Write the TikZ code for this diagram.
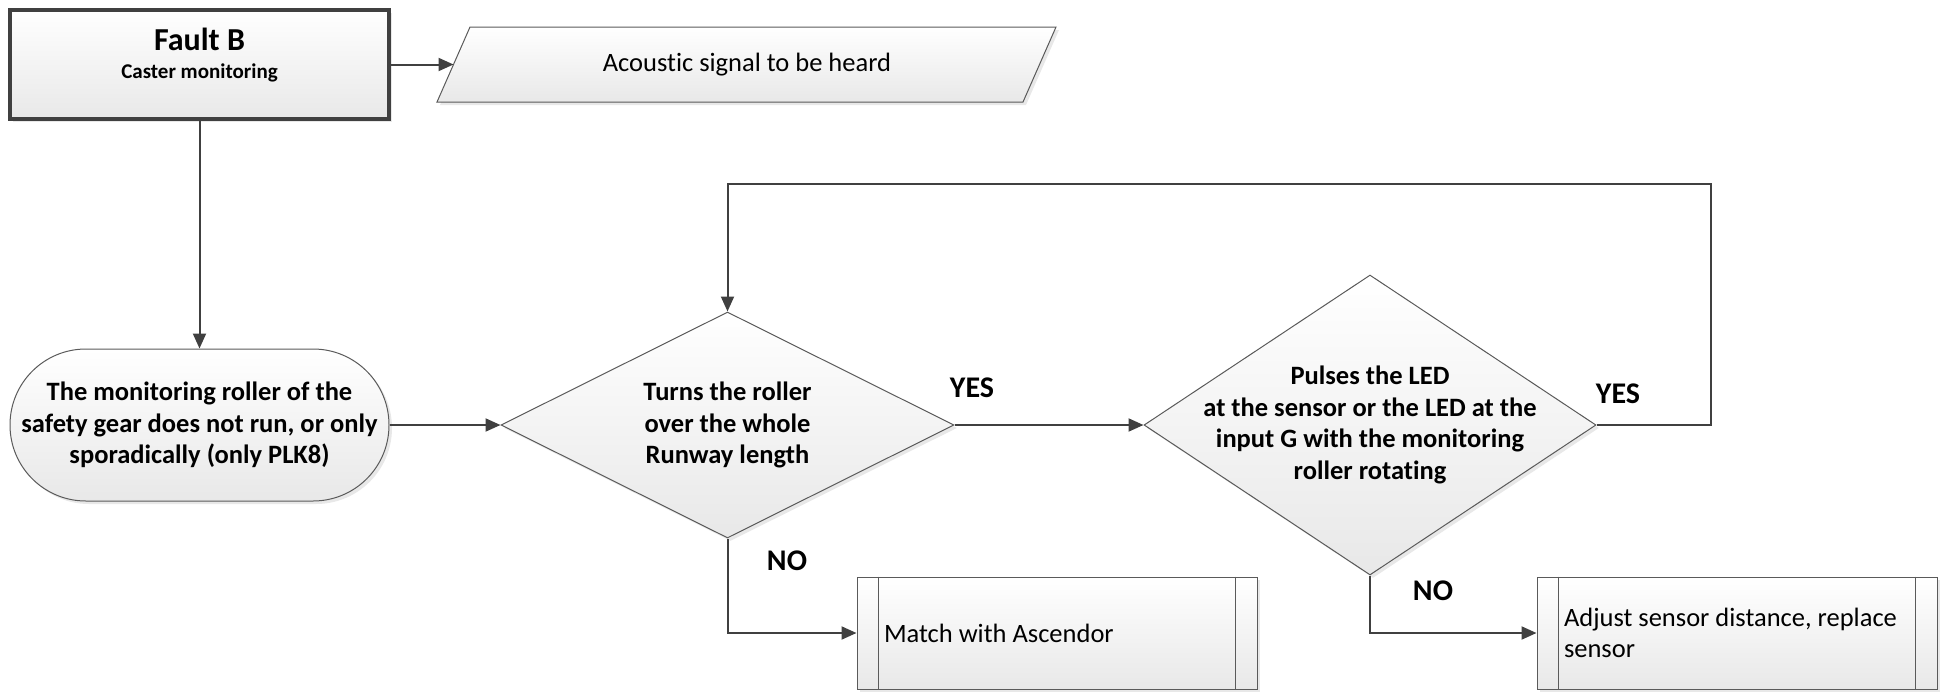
\documentclass[tikz,border=0pt]{standalone}
\usepackage{fontspec}
\setmainfont{Carlito}[Ligatures=NoCommon]
\usetikzlibrary{arrows.meta,shapes.geometric,shadows}
\definecolor{ln}{HTML}{404040}
\definecolor{bd}{HTML}{5A5A5A}
\tikzset{
 base/.style={draw=bd, line width=1pt, top color=white, bottom color=black!9,
   drop shadow={shadow xshift=3pt,shadow yshift=-3pt,opacity=0.18}},
 bodyfont/.style={font=\fontsize{26.5}{31.7}\selectfont},
 boldfont/.style={font=\fontsize{26.5}{31.7}\selectfont\bfseries},
 conn/.style={draw=ln, line width=2pt, -{Triangle[length=15pt,width=13pt]}},
 lbl/.style={font=\fontsize{30}{36}\selectfont\bfseries, text=black, inner sep=0pt},
 decision/.style={base, diamond, align=center, boldfont},
 proc/.style={base, rectangle, minimum width=400pt, minimum height=112pt,
   text width=346pt, inner xsep=27pt, inner ysep=0pt, align=flush left, bodyfont},
 procline/.style={draw=bd, line width=1pt},
}
\begin{document}
\begin{tikzpicture}[x=1pt,y=-1pt]
\useasboundingbox (0,0) rectangle (1948,691);

% Start box
\node[draw=ln, line width=3.5pt, top color=white, bottom color=black!9,
  drop shadow={shadow xshift=3pt,shadow yshift=-3pt,opacity=0.18},
  minimum width=379pt, minimum height=109pt, align=center, inner sep=0pt,
  font=\fontsize{21}{28}\selectfont\bfseries]
  (fault) at (199.5,64.5)
  {{\fontsize{32}{28}\selectfont Fault B}\\
   Caster monitoring\rule[-23pt]{0pt}{1pt}};

% Parallelogram (output)
\draw[base] (437,102) -- (470,27) -- (1056,27) -- (1023,102) -- cycle;
\node[bodyfont, inner sep=0pt] (sig) at (747,64.5) {Acoustic signal to be heard};
\coordinate (sigL) at (453.5,64.5);

% Terminal
\node[base, rectangle, rounded corners=75.9pt, minimum width=379pt, minimum height=152pt,
  align=center, boldfont, inner sep=0pt] (term) at (199.5,425)
  {The monitoring roller of the\\safety gear does not run, or only\\sporadically (only PLK8)};

% Decisions
\node[decision, inner sep=0pt, shape aspect=2, minimum width=453pt, minimum height=226pt] (d1) at (727.5,425)
  {Turns the roller\\over the whole\\Runway length};
\node[decision, inner sep=-20pt, shape aspect=1.5, minimum width=452pt, minimum height=300pt] (d2) at (1370,425)
  {Pulses the LED\\at the sensor or the LED at the\\input G with the monitoring\\roller rotating};

% Predefined processes
\node[proc] (b1) at (1057,633) {Match with Ascendor};
\draw[procline] ([xshift=22pt]b1.north west) -- ([xshift=22pt]b1.south west);
\draw[procline] ([xshift=-22pt]b1.north east) -- ([xshift=-22pt]b1.south east);

\node[proc] (b2) at (1737,633) {Adjust sensor distance, replace\\sensor};
\draw[procline] ([xshift=22pt]b2.north west) -- ([xshift=22pt]b2.south west);
\draw[procline] ([xshift=-22pt]b2.north east) -- ([xshift=-22pt]b2.south east);

% Connectors
\draw[conn] (fault.east) -- (sigL);
\draw[conn] (fault.south) -- (term.north);
\draw[conn] (term.east) -- (d1.west);
\draw[conn] (d1.east) -- (d2.west);
\coordinate (loopR) at (1711,184);
\draw[conn] (d2.east) -| (loopR) -| (d1.north);
\draw[conn] (d1.south) |- (b1.west);
\draw[conn] (d2.south) |- (b2.west);

% Labels
\node[lbl] (yes1) at (972,388) {YES};
\node[lbl] (yes2) at (1618,394) {YES};
\node[lbl] (no1) at (787,561) {NO};
\node[lbl] (no2) at (1433,591) {NO};
\end{tikzpicture}
\end{document}
